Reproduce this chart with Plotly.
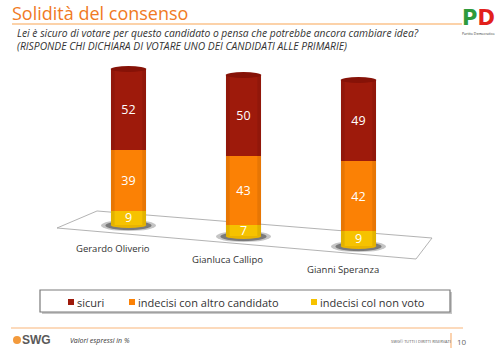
import plotly.graph_objects as go

# ---------------- data ----------------
candidates = ["Gerardo Oliverio", "Gianluca Callipo", "Gianni Speranza"]
sicuri = [52, 50, 49]
indecisi_altro = [39, 43, 42]
indecisi_non_voto = [9, 7, 9]
series_names = ["sicuri", "indecisi con altro candidato", "indecisi col non voto"]

# ---------------- style ----------------
W, H = 500, 351
RED, ORANGE, YELLOW = "#9E1A0B", "#FB8105", "#F6C200"
FONT = "Open Sans"


def px(x):
    return x / W


def py(y):
    return 1 - y / H


# perspective of the 3-D picture: per-candidate (base pixel, pixels per unit)
persp = [(225, 1.56), (236, 1.61), (246, 1.66)]
plot_top, plot_bot = 40, 280
x_left, x_right = 71, 416
bar_w = 0.31

fig = go.Figure()

# stacked from bottom to top
stack = [
    (indecisi_non_voto, YELLOW, series_names[2]),
    (indecisi_altro, ORANGE, series_names[1]),
    (sicuri, RED, series_names[0]),
]

for i, cand in enumerate(candidates):
    yname = "y" if i == 0 else f"y{i + 1}"
    for vals, col, name in stack:
        fig.add_trace(go.Bar(
            x=[cand], y=[vals[i]], yaxis=yname, name=name,
            marker=dict(color=col, line=dict(width=0)),
            width=bar_w, text=[vals[i]], textposition="inside", textangle=0,
            insidetextanchor="middle", constraintext="none",
            textfont=dict(color="white", size=12.5, family=FONT),
            showlegend=False, cliponaxis=False, hoverinfo="skip",
        ))

layout_axes = {}
for i, (base, k) in enumerate(persp):
    key = "yaxis" if i == 0 else f"yaxis{i + 1}"
    rng = [(base - plot_bot) / k, (base - plot_top) / k]
    ax = dict(range=rng, domain=[py(plot_bot), py(plot_top)], visible=False,
              showgrid=False, zeroline=False, fixedrange=True)
    if i > 0:
        ax["overlaying"] = "y"
    layout_axes[key] = ax

shapes = []
# floor plane
floor = [(57, 228), (97, 211), (432, 238), (416, 259)]
path = "M " + " L ".join(f"{px(a):.4f},{py(b):.4f}" for a, b in floor) + " Z"
shapes.append(dict(type="path", path=path, xref="paper", yref="paper",
                   line=dict(color="#A0A0A0", width=0.8), fillcolor="white", layer="below"))

edge = 0.035
for i, cand in enumerate(candidates):
    yref = "y" if i == 0 else f"y{i + 1}"
    k = persp[i][1]
    total = sicuri[i] + indecisi_altro[i] + indecisi_non_voto[i]
    # shadow
    shapes.append(dict(type="circle", xref="x", yref=yref, x0=i - 0.24, x1=i + 0.24,
                       y0=-6 / k, y1=5 / k, fillcolor="rgba(90,90,90,0.35)",
                       line=dict(width=0), layer="below"))
    shapes.append(dict(type="circle", xref="x", yref=yref, x0=i - 0.2, x1=i + 0.2,
                       y0=-5 / k, y1=4 / k, fillcolor="rgba(60,60,60,0.55)",
                       line=dict(width=0), layer="below"))
    # bottom of cylinder
    shapes.append(dict(type="circle", xref="x", yref=yref, x0=i - bar_w / 2, x1=i + bar_w / 2,
                       y0=-3 / k, y1=3 / k, fillcolor="#E9B400",
                       line=dict(width=0), layer="below"))
    # cylinder edge shading
    for xa, xb in [(i - bar_w / 2, i - bar_w / 2 + edge), (i + bar_w / 2 - edge, i + bar_w / 2)]:
        shapes.append(dict(type="rect", xref="x", yref=yref, x0=xa, x1=xb, y0=0, y1=total,
                           fillcolor="rgba(0,0,0,0.08)", line=dict(width=0), layer="above"))
    # top of cylinder
    shapes.append(dict(type="circle", xref="x", yref=yref, x0=i - bar_w / 2, x1=i + bar_w / 2,
                       y0=total - 3 / k, y1=total + 3 / k, fillcolor="#861207",
                       line=dict(width=0), layer="above"))

# title underline and footer line
shapes.append(dict(type="line", xref="paper", yref="paper", x0=px(12), x1=px(462),
                   y0=py(24), y1=py(24), line=dict(color="#F9A555", width=1.2)))
shapes.append(dict(type="line", xref="paper", yref="paper", x0=px(11), x1=px(463),
                   y0=py(328), y1=py(328), line=dict(color="#F9B57A", width=1.2)))
shapes.append(dict(type="line", xref="paper", yref="paper", x0=px(451), x1=px(451),
                   y0=py(333), y1=py(348), line=dict(color="#F9B57A", width=1.2)))

# legend box (with shadow)
shapes.append(dict(type="rect", xref="paper", yref="paper", x0=px(42), x1=px(452),
                   y0=py(314), y1=py(292), line=dict(width=0), fillcolor="#C8C8C8"))
shapes.append(dict(type="rect", xref="paper", yref="paper", x0=px(40), x1=px(450),
                   y0=py(312), y1=py(290), line=dict(color="#7A7A7A", width=1.2),
                   fillcolor="white"))
legend_pos = [(68, RED), (129, ORANGE), (311, YELLOW)]
annotations = []
for (lx, col), name in zip(legend_pos, series_names):
    shapes.append(dict(type="rect", xref="paper", yref="paper", x0=px(lx), x1=px(lx + 6),
                       y0=py(305), y1=py(299), line=dict(width=0), fillcolor=col))
    annotations.append(dict(text=name, x=px(lx + 7), y=py(302), xref="paper", yref="paper",
                            xanchor="left", yanchor="middle", showarrow=False,
                            font=dict(family=FONT, size=11, color="#333333")))

# SWG logo dot
shapes.append(dict(type="circle", xref="paper", yref="paper", x0=px(13), x1=px(21),
                   y0=py(344), y1=py(336), fillcolor="#F39A3C", line=dict(width=0)))

# category labels (staggered like the perspective picture)
for i, cand in enumerate(candidates):
    yref = "y" if i == 0 else f"y{i + 1}"
    annotations.append(dict(text=cand, x=i, y=0, xref="x", yref=yref,
                            xanchor="center", yanchor="middle", xshift=-16, yshift=-23,
                            showarrow=False,
                            font=dict(family=FONT, size=9.5, color="#333333")))

# title, subtitle
annotations += [
    dict(text="Solidità del consenso", x=px(10), y=py(13), xref="paper", yref="paper",
         xanchor="left", yanchor="middle", showarrow=False,
         font=dict(family=FONT, size=18, color="#F07A24")),
    dict(text="<i>Lei è sicuro di votare per questo candidato o pensa che potrebbe ancora cambiare idea?"
              "<br>(RISPONDE CHI DICHIARA DI VOTARE UNO DEI CANDIDATI ALLE PRIMARIE)</i>",
         x=px(15), y=py(39.5), xref="paper", yref="paper", xanchor="left", yanchor="middle",
         align="left", showarrow=False, font=dict(family=FONT, size=10.3, color="#333333")),
    # footer
    dict(text="<b>SWG</b>", x=px(20), y=py(340), xref="paper", yref="paper",
         xanchor="left", yanchor="middle", showarrow=False,
         font=dict(family="Liberation Sans", size=12, color="#5A5A5A")),
    dict(text="<i>Valori espressi in %</i>", x=px(68), y=py(340), xref="paper", yref="paper",
         xanchor="left", yanchor="middle", showarrow=False,
         font=dict(family=FONT, size=7, color="#333333")),
    dict(text="SWG© TUTTI I DIRITTI RISERVATI", x=px(389), y=py(341), xref="paper", yref="paper",
         xanchor="left", yanchor="middle", showarrow=False,
         font=dict(family=FONT, size=4, color="#555555")),
    dict(text="10", x=px(455), y=py(341), xref="paper", yref="paper",
         xanchor="left", yanchor="middle", showarrow=False,
         font=dict(family=FONT, size=8, color="#666666")),
    # PD logo
    dict(text="<b><span style='color:#2E9A3C'>P</span><span style='color:#E2211C'>D</span></b>",
         x=px(478), y=py(18), xref="paper", yref="paper",
         xanchor="center", yanchor="middle", showarrow=False,
         font=dict(family="DejaVu Sans", size=21, color="#E2211C")),
    dict(text="Partito Democratico", x=px(478), y=py(33), xref="paper", yref="paper",
         xanchor="center", yanchor="middle", showarrow=False,
         font=dict(family=FONT, size=3.5, color="#333333")),
]

fig.update_layout(
    width=W, height=H, margin=dict(l=0, r=0, t=0, b=0),
    paper_bgcolor="white", plot_bgcolor="rgba(0,0,0,0)",
    barmode="stack", showlegend=False,
    xaxis=dict(domain=[px(x_left), px(x_right)], type="category",
               categoryorder="array", categoryarray=candidates,
               visible=False, fixedrange=True),
    shapes=shapes, annotations=annotations,
    **layout_axes,
)

fig.write_html("out.html")
